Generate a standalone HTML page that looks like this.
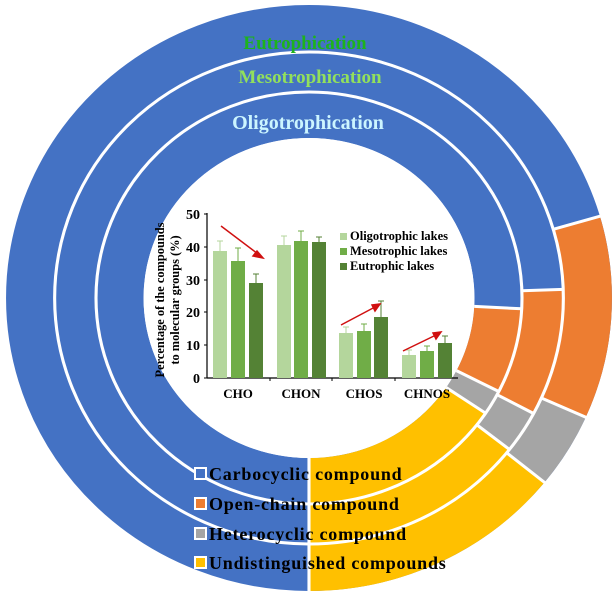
<!DOCTYPE html>
<html><head><meta charset="utf-8"><style>html,body{margin:0;padding:0;background:#fff}svg{display:block}</style></head>
<body>
<svg width="616" height="605" viewBox="0 0 616 605" xmlns="http://www.w3.org/2000/svg" font-family="Liberation Serif, serif">
<g transform="translate(309,298) scale(1.034,1)">
<g transform="rotate(-90)" fill="none">
  <circle r="269.5" stroke="#4472c4" stroke-width="47"/>
  <circle r="269.5" stroke="#ed7d31" stroke-width="47" pathLength="100" stroke-dasharray="11.2 200" stroke-dashoffset="-20.5"/>
  <circle r="269.5" stroke="#a5a5a5" stroke-width="47" pathLength="100" stroke-dasharray="4.1 200" stroke-dashoffset="-31.7"/>
  <circle r="269.5" stroke="#ffc000" stroke-width="47" pathLength="100" stroke-dasharray="14.2 200" stroke-dashoffset="-35.8"/>
  <circle r="226" stroke="#4472c4" stroke-width="40"/>
  <circle r="226" stroke="#ed7d31" stroke-width="40" pathLength="100" stroke-dasharray="8.4 200" stroke-dashoffset="-24.4"/>
  <circle r="226" stroke="#a5a5a5" stroke-width="40" pathLength="100" stroke-dasharray="2.8 200" stroke-dashoffset="-32.8"/>
  <circle r="226" stroke="#ffc000" stroke-width="40" pathLength="100" stroke-dasharray="14.4 200" stroke-dashoffset="-35.6"/>
  <circle r="183" stroke="#4472c4" stroke-width="46"/>
  <circle r="183" stroke="#ed7d31" stroke-width="46" pathLength="100" stroke-dasharray="6.7 200" stroke-dashoffset="-25.8"/>
  <circle r="183" stroke="#a5a5a5" stroke-width="46" pathLength="100" stroke-dasharray="1.9 200" stroke-dashoffset="-32.5"/>
  <circle r="183" stroke="#ffc000" stroke-width="46" pathLength="100" stroke-dasharray="15.6 200" stroke-dashoffset="-34.4"/>
  <circle r="246" stroke="#fff" stroke-width="3"/>
  <circle r="206" stroke="#fff" stroke-width="3"/>
</g>
<g stroke="#fff" stroke-width="3">
  <line x1="0" y1="246" x2="0" y2="294"/>
  <g transform="rotate(73.8)"><line x1="0" y1="-246" x2="0" y2="-294"/></g>
  <g transform="rotate(114)"><line x1="0" y1="-246" x2="0" y2="-294"/></g>
  <g transform="rotate(129)"><line x1="0" y1="-246" x2="0" y2="-294"/></g>
  <line x1="0" y1="206" x2="0" y2="246"/>
  <g transform="rotate(88)"><line x1="0" y1="-206" x2="0" y2="-246"/></g>
  <g transform="rotate(118)"><line x1="0" y1="-206" x2="0" y2="-246"/></g>
  <g transform="rotate(128)"><line x1="0" y1="-206" x2="0" y2="-246"/></g>
  <line x1="0" y1="160" x2="0" y2="206"/>
  <g transform="rotate(93)"><line x1="0" y1="-160" x2="0" y2="-206"/></g>
  <g transform="rotate(117)"><line x1="0" y1="-160" x2="0" y2="-206"/></g>
  <g transform="rotate(124)"><line x1="0" y1="-160" x2="0" y2="-206"/></g>
</g>
<circle r="160" fill="#fff"/>
</g>

<g font-weight="bold" text-anchor="middle">
  <text x="305" y="49" font-size="19" fill="#1db31d">Eutrophication</text>
  <text x="310" y="83" font-size="19" fill="#92e05c">Mesotrophication</text>
  <text x="308" y="129" font-size="20" fill="#ccf5ff">Oligotrophication</text>
</g>

<g font-weight="bold" font-size="13" fill="#000">
  <line x1="207" y1="213" x2="207" y2="378" stroke="#000" stroke-width="1.2"/>
  <line x1="207" y1="378" x2="458" y2="378" stroke="#000" stroke-width="1.2"/>
  <g stroke="#000" stroke-width="1">
    <line x1="204" y1="214" x2="207" y2="214"/><line x1="204" y1="247" x2="207" y2="247"/>
    <line x1="204" y1="280" x2="207" y2="280"/><line x1="204" y1="312" x2="207" y2="312"/>
    <line x1="204" y1="345" x2="207" y2="345"/><line x1="204" y1="378" x2="207" y2="378"/>
    <line x1="270" y1="378" x2="270" y2="381"/><line x1="332" y1="378" x2="332" y2="381"/><line x1="395" y1="378" x2="395" y2="381"/>
  </g>
  <g text-anchor="end" font-size="14">
    <text x="200" y="219">50</text><text x="200" y="252">40</text><text x="200" y="285">30</text>
    <text x="200" y="317">20</text><text x="200" y="350">10</text><text x="200" y="383">0</text>
  </g>
  <text transform="translate(164,300) rotate(-90)" text-anchor="middle" font-size="12.4">Percentage of the compounds</text>
  <text transform="translate(179,300) rotate(-90)" text-anchor="middle" font-size="12.4">to molecular groups (%)</text>
  <g text-anchor="middle">
    <text x="238" y="398">CHO</text><text x="301" y="398">CHON</text><text x="364" y="398">CHOS</text><text x="427" y="398">CHNOS</text>
  </g>
  <g>
    <rect x="213" y="251" width="14" height="127" fill="#b4d69c"/>
    <rect x="231" y="261" width="14" height="117" fill="#70ad47"/>
    <rect x="249" y="283" width="14" height="95" fill="#548235"/>
    <rect x="277" y="245" width="14" height="133" fill="#b4d69c"/>
    <rect x="294" y="241" width="14" height="137" fill="#70ad47"/>
    <rect x="312" y="242" width="14" height="136" fill="#548235"/>
    <rect x="339" y="333" width="14" height="45" fill="#b4d69c"/>
    <rect x="357" y="331" width="14" height="47" fill="#70ad47"/>
    <rect x="374" y="317" width="14" height="61" fill="#548235"/>
    <rect x="402" y="355" width="14" height="23" fill="#b4d69c"/>
    <rect x="420" y="351" width="14" height="27" fill="#70ad47"/>
    <rect x="438" y="343" width="14" height="35" fill="#548235"/>
  </g>
  <g stroke-width="1">
    <path d="M220 251V241M217 241H223" stroke="#b4d69c"/>
    <path d="M238 261V248M235 248H241" stroke="#70ad47"/>
    <path d="M256 283V274M253 274H259M256 283V292" stroke="#548235"/>
    <path d="M284 245V236M281 236H287" stroke="#b4d69c"/>
    <path d="M301 241V231M298 231H304" stroke="#70ad47"/>
    <path d="M319 242V237M316 237H322" stroke="#548235"/>
    <path d="M346 333V327M343 327H349" stroke="#b4d69c"/>
    <path d="M364 331V324M361 324H367" stroke="#70ad47"/>
    <path d="M381 317V301M378 301H384M381 317V334" stroke="#548235"/>
    <path d="M409 355V350M406 350H412" stroke="#b4d69c"/>
    <path d="M427 351V346M424 346H430" stroke="#70ad47"/>
    <path d="M445 343V336M442 336H448" stroke="#548235"/>
  </g>
  <g stroke="#d01010" stroke-width="1.5" fill="#d01010">
    <line x1="221" y1="226" x2="258" y2="254"/><polygon points="263,258 253,256 257,251"/>
    <line x1="341" y1="325" x2="375" y2="307"/><polygon points="380,304 375,311 372,305"/>
    <line x1="403" y1="351" x2="436" y2="335"/><polygon points="441,332 436,339 433,333"/>
  </g>
  <rect x="340" y="233" width="7" height="7" fill="#b4d69c"/>
  <rect x="340" y="248" width="7" height="7" fill="#70ad47"/>
  <rect x="340" y="263" width="7" height="7" fill="#548235"/>
  <text x="350" y="240" font-size="12.5">Oligotrophic lakes</text>
  <text x="350" y="255" font-size="12.5">Mesotrophic lakes</text>
  <text x="350" y="270" font-size="12.5">Eutrophic lakes</text>
</g>

<g font-weight="bold" font-size="18" fill="#000" letter-spacing="0.8">
  <rect x="195" y="468" width="11" height="11" fill="#4472c4" stroke="#fff" stroke-width="2"/>
  <rect x="195" y="498" width="11" height="11" fill="#ed7d31" stroke="#fff" stroke-width="2"/>
  <rect x="195" y="528" width="11" height="11" fill="#a5a5a5" stroke="#fff" stroke-width="2"/>
  <rect x="195" y="557" width="11" height="11" fill="#ffc000" stroke="#fff" stroke-width="2"/>
  <text x="209" y="480">Carbocyclic compound</text>
  <text x="209" y="510">Open-chain compound</text>
  <text x="209" y="540">Heterocyclic compound</text>
  <text x="209" y="569">Undistinguished compounds</text>
</g>
</svg>
</body></html>
